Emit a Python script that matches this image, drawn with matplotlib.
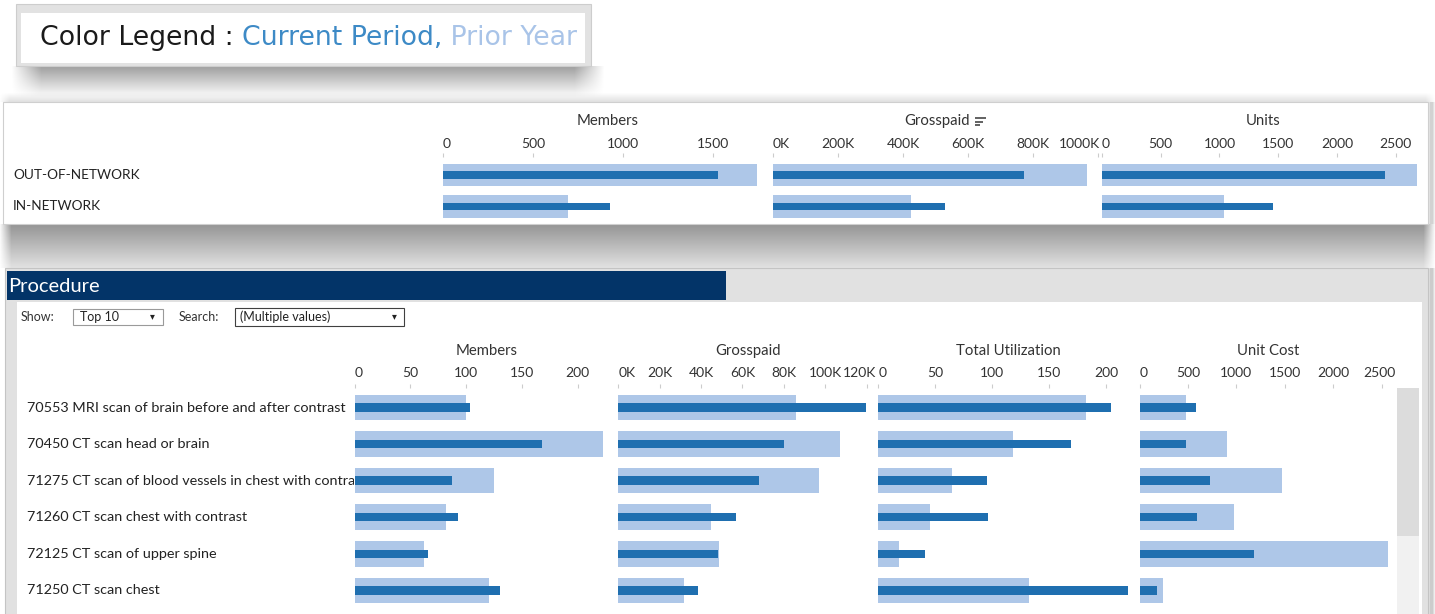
import numpy as np
import matplotlib
matplotlib.use("Agg")
import matplotlib.pyplot as plt
from matplotlib.patches import Rectangle

plt.rcParams['font.family'] = ['Lato', 'DejaVu Sans']

# values
network = ["OUT-OF-NETWORK", "IN-NETWORK"]
net_members_cur = [1525, 930]
net_members_prior = [1744, 692]
net_paid_cur = [772000, 529000]
net_paid_prior = [966000, 425000]
net_units_cur = [2406, 1455]
net_units_prior = [2677, 1038]

procedures = [
    "70553 MRI scan of brain before and after contrast",
    "70450 CT scan head or brain",
    "71275 CT scan of blood vessels in chest with contrast",
    "71260 CT scan chest with contrast",
    "72125 CT scan of upper spine",
    "71250 CT scan chest",
]
proc_members_cur = [103, 168, 87, 93, 66, 130]
proc_members_prior = [100, 223, 125, 82, 62, 120]
proc_paid_cur = [119600, 80000, 67800, 56900, 48200, 38600]
proc_paid_prior = [86000, 107300, 96800, 44700, 48500, 31800]
proc_util_cur = [204, 169, 95, 96, 41, 219]
proc_util_prior = [182, 118, 65, 45, 18, 132]
proc_cost_cur = [585, 478, 724, 593, 1184, 184]
proc_cost_prior = [478, 899, 1468, 973, 2570, 244]

net_members_ticks = [0, 500, 1000, 1500]
net_paid_ticks = [0, 200000, 400000, 600000, 800000, 1000000]
net_units_ticks = [0, 500, 1000, 1500, 2000, 2500]
proc_members_ticks = [0, 50, 100, 150, 200]
proc_paid_ticks = [0, 20000, 40000, 60000, 80000, 100000, 120000]
proc_util_ticks = [0, 50, 100, 150, 200]
proc_cost_ticks = [0, 500, 1000, 1500, 2000, 2500]

CUR = "#1f6fb0"
PRIOR = "#aec7e8"
TXT = "#333333"

W, H = 1435, 614
fig = plt.figure(figsize=(W / 100, H / 100), dpi=100)


def px_axes(x0, y0, x1, y1, z=1):
    ax = fig.add_axes([x0 / W, 1 - y1 / H, (x1 - x0) / W, (y1 - y0) / H], zorder=z)
    return ax


bg = px_axes(0, 0, W, H, z=0)
bg.axis('off')


def shadow(x0, x1, y0, y1, a0, a1, fade=20):
    h = int(y1 - y0)
    w = int(x1 - x0)
    ys = np.linspace(a0, a1, h)[:, None]
    xs = np.clip(np.minimum(np.arange(w) + 1, w - np.arange(w)) / fade, 0, 1)[None, :]
    img = np.zeros((h, w, 4))
    img[..., 3] = ys * xs
    bg.imshow(img, extent=[x0, x1, y1, y0], aspect='auto', interpolation='bilinear', zorder=0)


def rect(x0, y0, x1, y1, fc, ec='none', lw=0.8, z=1):
    bg.add_patch(Rectangle((x0, y0), x1 - x0, y1 - y0, fc=fc, ec=ec, lw=lw, zorder=z))


# legend card
shadow(12, 604, 66, 98, 0.38, 0.0, fade=30)
rect(15.5, 4, 591, 66, '#e2e2e2', '#cdcdcd')

# top card
shadow(0, W, 92, 102, 0.0, 0.12, fade=10)
shadow(0, W, 224, 268, 0.42, 0.12, fade=12)
shadow(1428, W, 102, 224, 0.18, 0.18, fade=3)
rect(3, 102, 1428, 224, 'white', '#cfcfcf')

# procedure card
shadow(1428, W, 268, H, 0.2, 0.2, fade=3)
rect(5, 268, 1428, H + 5, '#e1e1e1', '#c4c4c4')
rect(7, 271, 726, 300, '#033468')
rect(17, 302, 1422, H + 5, 'white')
rect(1397, 388, 1419, H + 5, '#f1f1f1')
rect(1397, 388, 1419, 536, '#dcdcdc')
bg.text(8, 286, "Procedure", color='white', fontsize=14.5, va='center')

# filter widgets
bg.text(21, 317, "Show:", fontsize=9, color=TXT, va='center')
rect(73, 309, 163, 325, 'white', '#9a9a9a')
bg.text(80, 317, "Top 10", fontsize=9, color='#222222', va='center')
bg.text(152, 317, "\u25be", fontsize=7, color='#222222', va='center', ha='center')
bg.text(179, 317, "Search:", fontsize=9, color=TXT, va='center')
rect(235, 308, 404, 326, 'white', '#404040')
bg.text(240, 317, "(Multiple values)", fontsize=9, color='#222222', va='center')
bg.text(394, 317, "\u25be", fontsize=7, color='#222222', va='center', ha='center')

# sort icon next to Grosspaid
for y, x1 in [(118, 986), (121.5, 983), (125, 980)]:
    bg.plot([975, x1], [y, y], color='#555555', lw=1.3, solid_capstyle='butt')

bg.set_xlim(0, W)
bg.set_ylim(H, 0)

# colour legend text
leg = px_axes(21, 13, 585, 63, z=2)
leg.set_facecolor('white')
leg.set_xticks([])
leg.set_yticks([])
for s in leg.spines.values():
    s.set_visible(False)
leg_font = ['DejaVu Sans']
t1 = leg.text(0.033, 0.5, "Color Legend : ", fontsize=19.3, color='#1a1a1a',
              family=leg_font, va='center', transform=leg.transAxes)
t2 = leg.annotate("Current Period,", (1, 0), xycoords=t1, va='bottom', fontsize=19.3,
                  color='#3d8ac6', family=leg_font)
t3 = leg.annotate(" Prior Year", (1, 0), xycoords=t2, va='bottom', fontsize=19.3,
                  color='#a9c4e8', family=leg_font, clip_on=True)

panes = []


def k_fmt(v):
    return "%dK" % round(v / 1000)


def plain_fmt(v):
    return "%d" % v


def bar_pane(x0, x1, y_top, y_bot, row0, pitch, xmax, prior, cur, ticks, fmt, title,
             lab_off, title_off):
    ax = px_axes(x0, y_top, x1, y_bot, z=3)
    ax.set_facecolor('none')
    idx = np.arange(len(prior))
    ax.barh(idx, prior, height=0.7, color=PRIOR)
    ax.barh(idx, cur, height=0.23, color=CUR)
    ax.set_xlim(0, xmax)
    ax.set_ylim((y_bot - row0) / pitch, (y_top - row0) / pitch)
    ax.xaxis.tick_top()
    ax.set_xticks(ticks)
    ax.tick_params(axis='x', length=3, width=0.8, color='#cccccc', labeltop=False)
    ax.set_yticks([])
    for s in ax.spines.values():
        s.set_visible(False)
    labels = []
    for v in ticks:
        labels.append(ax.annotate(fmt(v), (v, 1), xycoords=ax.get_xaxis_transform(),
                                  xytext=(0, lab_off), textcoords='offset pixels',
                                  ha='center', va='center', fontsize=10, color=TXT,
                                  annotation_clip=False))
    ax.annotate(title, (0.5, 1), xycoords='axes fraction', xytext=(0, title_off),
                textcoords='offset pixels', ha='center', va='center', fontsize=10.75,
                color=TXT)
    panes.append((ax, labels))
    return ax


def row_labels(x0, x1, y_top, y_bot, row0, pitch, names, size):
    ax = px_axes(x0, y_top, x1, y_bot, z=3)
    ax.set_facecolor('none')
    ax.set_ylim((y_bot - row0) / pitch, (y_top - row0) / pitch)
    ax.axis('off')
    for i, name in enumerate(names):
        ax.text(0, i, name, transform=ax.get_yaxis_transform(), ha='left', va='center',
                fontsize=size, color='#222222', clip_on=True)


# network summary
top_args = dict(y_top=157, y_bot=222, row0=175, pitch=31.5, lab_off=13, title_off=36)
bar_pane(443, 772.5, xmax=1830, prior=net_members_prior, cur=net_members_cur,
         ticks=net_members_ticks, fmt=plain_fmt, title="Members", **top_args)
bar_pane(773, 1101.5, xmax=1010800, prior=net_paid_prior, cur=net_paid_cur,
         ticks=net_paid_ticks, fmt=k_fmt, title="Grosspaid", **top_args)
bar_pane(1102, 1425, xmax=2749, prior=net_units_prior, cur=net_units_cur,
         ticks=net_units_ticks, fmt=plain_fmt, title="Units", **top_args)
row_labels(13, 440, 157, 222, 175, 31.5, network, 9.8)

# procedures
bot_args = dict(y_top=388, y_bot=H, row0=407.5, pitch=36.56, lab_off=15, title_off=37)
bar_pane(354.7, 618, xmax=236, prior=proc_members_prior, cur=proc_members_cur,
         ticks=proc_members_ticks, fmt=plain_fmt, title="Members", **bot_args)
bar_pane(618.2, 878, xmax=125500, prior=proc_paid_prior, cur=proc_paid_cur,
         ticks=proc_paid_ticks, fmt=k_fmt, title="Grosspaid", **bot_args)
bar_pane(878.2, 1139.5, xmax=229, prior=proc_util_prior, cur=proc_util_cur,
         ticks=proc_util_ticks, fmt=plain_fmt, title="Total Utilization", **bot_args)
bar_pane(1139.5, 1397, xmax=2660, prior=proc_cost_prior, cur=proc_cost_cur,
         ticks=proc_cost_ticks, fmt=plain_fmt, title="Unit Cost", **bot_args)
row_labels(27, 354, 388, H, 407.5, 36.56, procedures, 10.4)

# keep tick labels inside their pane, the way Tableau does
fig.canvas.draw()
for ax, labels in panes:
    axbb = ax.get_window_extent()
    for t in labels:
        bb = t.get_window_extent()
        dx = 0
        if bb.x0 < axbb.x0:
            dx = axbb.x0 - bb.x0
        elif bb.x1 > axbb.x1 - 1.5:
            dx = (axbb.x1 - 1.5) - bb.x1
        t.xyann = (t.xyann[0] + dx, t.xyann[1])

fig.savefig("out.png", dpi=100)
